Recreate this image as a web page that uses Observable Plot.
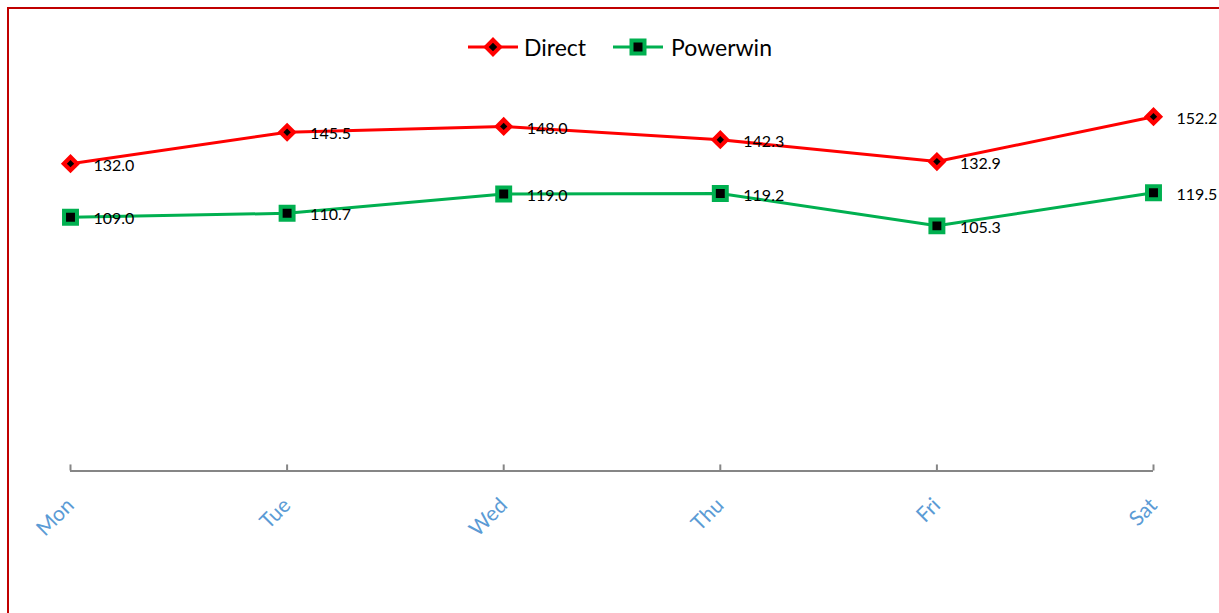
<!DOCTYPE html>
<html><head><meta charset="utf-8">
<script src="https://cdn.jsdelivr.net/npm/d3@7"></script>
<script src="https://cdn.jsdelivr.net/npm/@observablehq/plot@0.6"></script>
<style>
html,body{margin:0;padding:0;background:#fff;overflow:hidden}
#wrap{position:relative;width:1219px;height:613px;font-family:Lato,"Open Sans",sans-serif;overflow:hidden}
#frame{position:absolute;left:7px;top:7px;width:1300px;height:700px;border-left:2px solid #c00000;border-top:2px solid #c00000}
#chart{position:absolute;left:0;top:0}
#legend{position:absolute;top:33px;left:468px;display:flex;align-items:center;font-size:23px;color:#000;white-space:nowrap}
#legend .item{display:flex;align-items:center}
#legend svg{display:block}
</style>
</head><body>
<div id="wrap"><div id="frame"></div><div id="chart"></div><div id="legend"></div></div>
<script>
const days = ["Mon","Tue","Wed","Thu","Fri","Sat"];
const seriesNames = ["Direct","Powerwin"];
const seriesColors = ["#ff0000","#00b050"];
const direct = [132.0,145.5,148.0,142.3,132.9,152.2];
const powerwin = [109.0,110.7,119.0,119.2,105.3,119.5];

const seriesValues = {Direct: direct, Powerwin: powerwin};
const data = seriesNames.flatMap(s => seriesValues[s].map((v,i) => ({day: days[i], value: v, series: s})));
const dDirect = data.filter(d => d.series === "Direct");
const dPower = data.filter(d => d.series === "Powerwin");

const chart = Plot.plot({
  width: 1219, height: 613,
  marginLeft: 70, marginRight: 66, marginTop: 98, marginBottom: 142.5,
  style: {fontFamily: "Lato, 'Open Sans', sans-serif", background: "transparent"},
  x: {type: "point", domain: days, padding: 0, round: false},
  y: {domain: [0, 160], axis: null},
  color: {domain: seriesNames, range: seriesColors},
  marks: [
    Plot.ruleY([0], {stroke: "#868686", strokeWidth: 2}),
    Plot.ruleX(days, {x: d => d, y1: 0, y2: 2.6, stroke: "#868686", strokeWidth: 2}),
    Plot.axisX({tickSize: 0, tickRotate: -45, tickPadding: 31, fill: "#5b9bd5", fontSize: 21, label: null}),
    Plot.line(data, {x: "day", y: "value", z: "series", stroke: "series", strokeWidth: 3}),
    Plot.dot(dDirect, {x: "day", y: "value", symbol: "square", rotate: 45, r: 5.3, fill: "black", stroke: "#ff0000", strokeWidth: 4.2}),
    Plot.dot(dPower, {x: "day", y: "value", symbol: "square", r: 7.3, fill: "black", stroke: "#00b050", strokeWidth: 4}),
    Plot.text(data, {x: "day", y: "value", text: d => d.value.toFixed(1), dx: 23, dy: 2, textAnchor: "start", fontSize: 16, fill: "black"})
  ]
});
document.getElementById("chart").appendChild(chart);

// legend
const legend = document.getElementById("legend");
seriesNames.forEach((name, i) => {
  const item = document.createElement("div");
  item.className = "item";
  if (i > 0) item.style.marginLeft = "27px";
  const c = seriesColors[i];
  const marker = i === 0
    ? `<rect x="20" y="5" width="10" height="10" fill="black" stroke="${c}" stroke-width="4" transform="rotate(45 25 10)"/>`
    : `<rect x="18.5" y="3.5" width="13" height="13" fill="black" stroke="${c}" stroke-width="4"/>`;
  item.innerHTML = `<svg width="50" height="20"><line x1="0" x2="50" y1="10" y2="10" stroke="${c}" stroke-width="3"/>${marker}</svg><span style="margin-left:${i===0?6:8}px">${name}</span>`;
  legend.appendChild(item);
});
</script>
</body></html>
